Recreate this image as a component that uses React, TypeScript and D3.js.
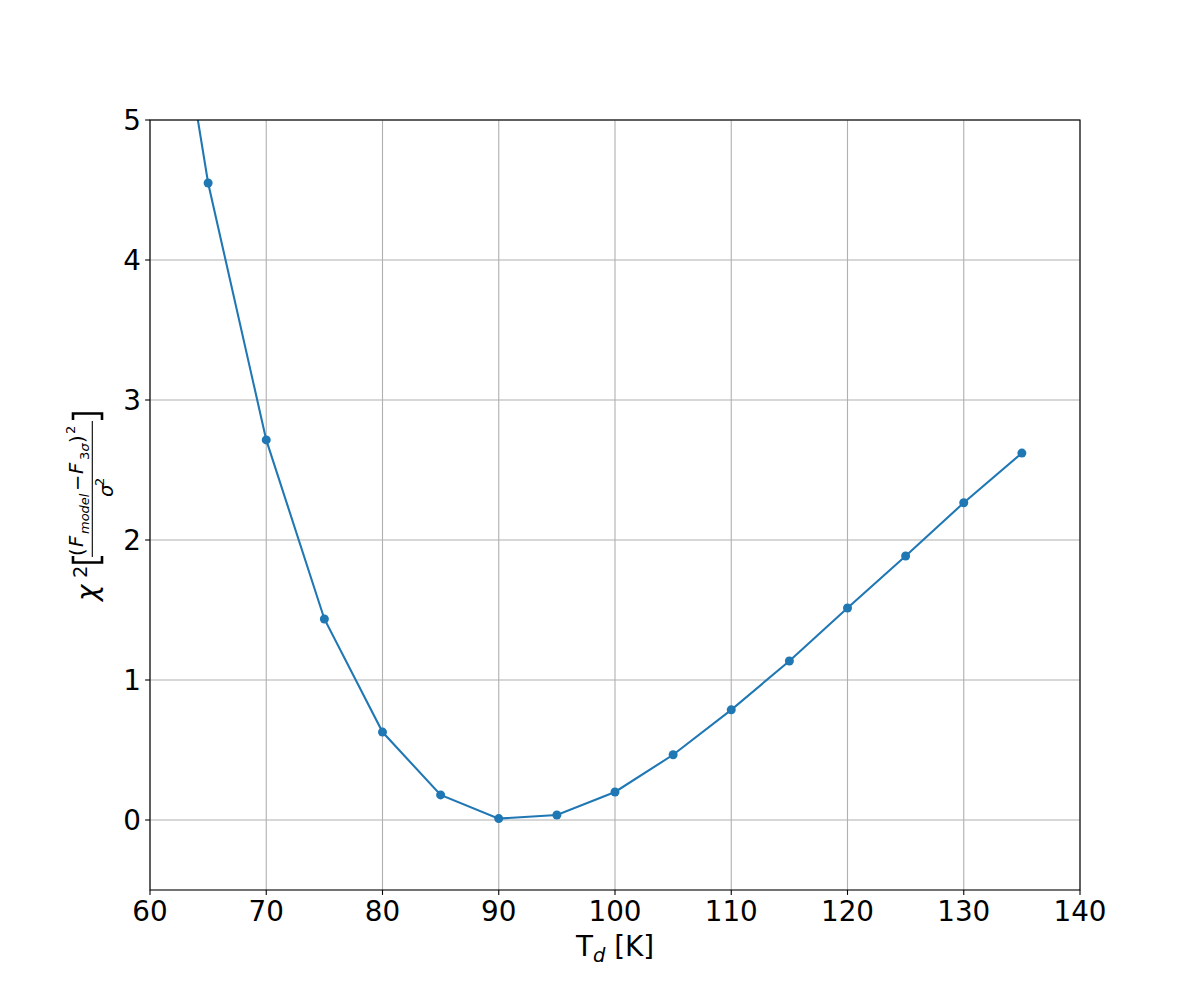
import React from "react";
import * as d3 from "d3";

const temps = [60, 65, 70, 75, 80, 85, 90, 95, 100, 105, 110, 115, 120, 125, 130, 135];
const chi2 = [7.1, 4.55, 2.715, 1.436, 0.628, 0.179, 0.01, 0.036, 0.2, 0.466, 0.787, 1.136, 1.514, 1.886, 2.266, 2.621];
const xTicks = [60, 70, 80, 90, 100, 110, 120, 130, 140];
const yTicks = [0, 1, 2, 3, 4, 5];

const W = 1200, H = 1000;
const L = 150, R = 1080, T = 120, B = 890;
const FONT = "DejaVu Sans";
const FS = 27.8;
const MS = 19.5;
const SS = 13;
const BLUE = "#1f77b4";

export default function App() {
  const x = d3.scaleLinear().domain([60, 140]).range([L, R]);
  const y = d3.scaleLinear().domain([-0.5, 5]).range([B, T]);
  const line = d3.line<number>().x((_, i) => x(temps[i])).y((d) => y(d));
  const pts = chi2.map((v, i) => ({ t: temps[i], v }));
  return (
    <svg width={W} height={H} style={{ position: "absolute", left: 0, top: 0 }} fontFamily={FONT}>
      <rect width={W} height={H} fill="white" />
      <defs>
        <clipPath id="plot">
          <rect x={L} y={T} width={R - L} height={B - T} />
        </clipPath>
      </defs>
      {xTicks.map((t) => (
        <line key={"gx" + t} x1={x(t)} x2={x(t)} y1={T} y2={B} stroke="#b0b0b0" strokeWidth={1.1} />
      ))}
      {yTicks.map((t) => (
        <line key={"gy" + t} x1={L} x2={R} y1={y(t)} y2={y(t)} stroke="#b0b0b0" strokeWidth={1.1} />
      ))}
      <g clipPath="url(#plot)">
        <path d={line(chi2) || ""} fill="none" stroke={BLUE} strokeWidth={2.08} />
        {pts.map((p) => (
          <circle key={p.t} cx={x(p.t)} cy={y(p.v)} r={4.5} fill={BLUE} />
        ))}
      </g>
      <rect x={L} y={T} width={R - L} height={B - T} fill="none" stroke="black" strokeWidth={1.1} />
      {xTicks.map((t) => (
        <g key={"xt" + t}>
          <line x1={x(t)} x2={x(t)} y1={B} y2={B + 4.9} stroke="black" strokeWidth={1.1} />
          <text x={x(t)} y={B + 31} textAnchor="middle" fontSize={FS}>{t}</text>
        </g>
      ))}
      {yTicks.map((t) => (
        <g key={"yt" + t}>
          <line x1={L - 4.9} x2={L} y1={y(t)} y2={y(t)} stroke="black" strokeWidth={1.1} />
          <text x={L - 9} y={y(t)} dy="0.36em" textAnchor="end" fontSize={FS}>{t}</text>
        </g>
      ))}
      <text x={615} y={956} textAnchor="middle" fontSize={FS}>
        T<tspan fontStyle="italic" fontSize={MS} dy={6}>d</tspan>
        <tspan dy={-6}> [K]</tspan>
      </text>
      <g transform="rotate(-90)" fontSize={FS}>
        <text x={-601} y={97} fontStyle="italic">χ</text>
        <text x={-578} y={87} fontSize={MS}>2</text>
        <path d="M -556 73 L -562.5 73 L -562.5 102 L -556 102" fill="none" stroke="black" strokeWidth={2.6} />
        <text x={-556} y={84} fontSize={MS}>(</text>
        <text x={-547} y={83} fontSize={MS} fontStyle="italic">F</text>
        <text x={-534} y={89} fontSize={SS} fontStyle="italic">model</text>
        <text x={-491} y={84} fontSize={MS}>−</text>
        <text x={-474} y={83} fontSize={MS} fontStyle="italic">F</text>
        <text x={-460} y={89} fontSize={SS}>3</text>
        <text x={-451.5} y={89} fontSize={SS} fontStyle="italic">σ</text>
        <text x={-443} y={84} fontSize={MS}>)</text>
        <text x={-434} y={75} fontSize={SS}>2</text>
        <line x1={-557} x2={-421} y1={92.3} y2={92.3} stroke="black" strokeWidth={1.1} />
        <text x={-497} y={113} fontSize={MS} fontStyle="italic">σ</text>
        <text x={-486} y={104} fontSize={SS}>2</text>
        <path d="M -420 73 L -413.5 73 L -413.5 102 L -420 102" fill="none" stroke="black" strokeWidth={2.6} />
      </g>
    </svg>
  );
}
